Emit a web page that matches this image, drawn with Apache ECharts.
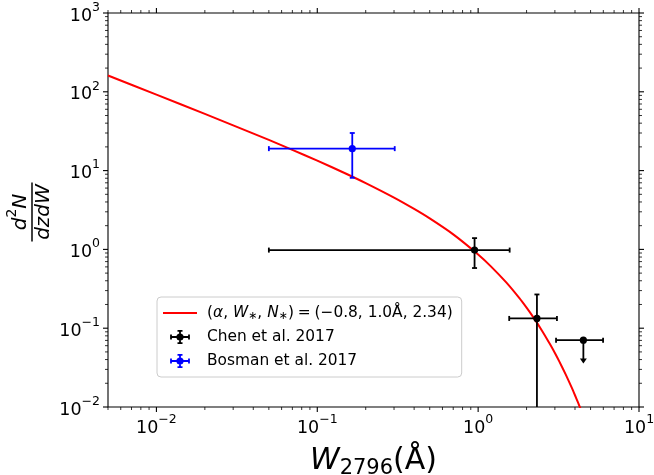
<!DOCTYPE html>
<html>
<head>
<meta charset="utf-8" />
<title>d2N/dzdW versus W2796</title>
<script src="https://cdn.jsdelivr.net/npm/echarts@6/dist/echarts.min.js"></script>
<style>
  html, body { margin: 0; padding: 0; background: #fff; }
  #grafico { width: 654px; height: 475px; }
</style>
</head>
<body>
<div id="grafico"></div>
<script>
// curva ajustada
const curvaW = [0.005, 0.01, 0.02, 0.03, 0.05, 0.07, 0.1, 0.15, 0.2, 0.3, 0.4, 0.5, 0.7, 1.0, 1.2, 1.5, 1.8, 2.0, 2.2, 2.5, 2.8, 3.0, 3.2, 3.5, 3.8, 4.0, 4.2, 4.4, 4.6];
const curvaN = [161, 92.2, 52.4, 37.5, 24.5, 18.3, 13.4, 9.19, 6.94, 4.54, 3.26, 2.47, 1.55, 0.861, 0.609, 0.378, 0.242, 0.182, 0.138, 0.0923, 0.0624, 0.0484, 0.0376, 0.0259, 0.0180, 0.0141, 0.0111, 0.0088, 0.0069];

// Chen et al. 2017 (o ultimo e limite superior)
const chenW = [0.95, 2.32, 4.51];
const chenN = [0.98, 0.133, 0.0705];
const chenWmin = [0.05, 1.56, 3.05];
const chenWmax = [1.57, 3.09, 5.98];
const chenNmin = [0.58, 0.001, 0.0367];
const chenNmax = [1.39, 0.268, 0.0705];
const chenLimite = [0, 0, 1];

// Bosman et al. 2017
const bosW = [0.165];
const bosN = [19];
const bosWmin = [0.050];
const bosWmax = [0.303];
const bosNmin = [8.1];
const bosNmax = [30];

const xMin = 0.005, xMax = 10;
const yMin = 0.01, yMax = 1000;

const fonte = "DejaVu Sans";

// marcas dos eixos: maiores em 10^k, menores em m*10^k
const ticksX = [];
for (let e = -3; e <= 1; e++) {
    for (let m = 1; m <= 9; m++) {
        const v = m * Math.pow(10, e);
        if (v >= xMin * 0.999 && v <= xMax * 1.001) ticksX.push([v, 1, m === 1 ? 1 : 0]);
    }
}
const ticksY = [];
for (let e = -2; e <= 3; e++) {
    for (let m = 1; m <= 9; m++) {
        const v = m * Math.pow(10, e);
        if (v >= yMin * 0.999 && v <= yMax * 1.001) ticksY.push([1, v, m === 1 ? 1 : 0]);
    }
}

function montaErros(w, n, wmin, wmax, nmin, nmax, lim) {
    return w.map((v, i) => [v, n[i], wmin[i], wmax[i], nmin[i], nmax[i], lim ? lim[i] : 0]);
}

function potencia(v) {
    const e = Math.round(Math.log10(v));
    if (Math.abs(Math.log10(v) - e) > 1e-6) return "";
    const txt = e < 0 ? "\u2212" + (-e) : "" + e;
    return "{b|10}{s|" + txt + "}";
}

const richRotulo = {
    b: { fontFamily: fonte, fontSize: 17.5, color: "#000", lineHeight: 24, verticalAlign: "bottom" },
    s: { fontFamily: fonte, fontSize: 12.5, color: "#000", lineHeight: 24, verticalAlign: "top" },
};

function desenhaErro(cor) {
    return function (params, api) {
        const x = api.value(0), y = api.value(1);
        const p = api.coord([x, y]);
        const xl = api.coord([api.value(2), y]);
        const xr = api.coord([api.value(3), y]);
        const yb = api.coord([x, api.value(4)]);
        const yt = api.coord([x, api.value(5)]);
        const lim = api.value(6);
        const st = { stroke: cor, lineWidth: 1.8 };
        const c = 2.5;
        const filhos = [
            { type: "line", shape: { x1: xl[0], y1: p[1], x2: xr[0], y2: p[1] }, style: st },
            { type: "line", shape: { x1: xl[0], y1: p[1] - c, x2: xl[0], y2: p[1] + c }, style: st },
            { type: "line", shape: { x1: xr[0], y1: p[1] - c, x2: xr[0], y2: p[1] + c }, style: st },
        ];
        if (lim) {
            filhos.push({ type: "line", shape: { x1: p[0], y1: p[1], x2: p[0], y2: yb[1] - 3 }, style: st });
            filhos.push({ type: "polygon", shape: { points: [[p[0] - 3.5, yb[1] - 4], [p[0] + 3.5, yb[1] - 4], [p[0], yb[1] + 1]] }, style: { fill: cor } });
        } else {
            filhos.push({ type: "line", shape: { x1: p[0], y1: yb[1], x2: p[0], y2: yt[1] }, style: st });
            filhos.push({ type: "line", shape: { x1: p[0] - c, y1: yt[1], x2: p[0] + c, y2: yt[1] }, style: st });
            filhos.push({ type: "line", shape: { x1: p[0] - c, y1: yb[1], x2: p[0] + c, y2: yb[1] }, style: st });
        }
        filhos.push({ type: "circle", shape: { cx: p[0], cy: p[1], r: 3.6 }, style: { fill: cor } });
        return { type: "group", children: filhos };
    };
}

function desenhaTicksX(params, api) {
    const v = api.value(0), maior = api.value(2);
    const len = maior ? 5 : 3, lw = maior ? 1.1 : 0.8;
    const b = api.coord([v, yMin]), t = api.coord([v, yMax]);
    const st = { stroke: "#000", lineWidth: lw };
    return { type: "group", children: [
        { type: "line", shape: { x1: b[0], y1: b[1], x2: b[0], y2: b[1] + len }, style: st },
        { type: "line", shape: { x1: t[0], y1: t[1], x2: t[0], y2: t[1] - len }, style: st },
    ] };
}

function desenhaTicksY(params, api) {
    const v = api.value(1), maior = api.value(2);
    const len = maior ? 5 : 3, lw = maior ? 1.1 : 0.8;
    const l = api.coord([xMin, v]), r = api.coord([xMax, v]);
    const st = { stroke: "#000", lineWidth: lw };
    return { type: "group", children: [
        { type: "line", shape: { x1: l[0], y1: l[1], x2: l[0] - len, y2: l[1] }, style: st },
        { type: "line", shape: { x1: r[0], y1: r[1], x2: r[0] + len, y2: r[1] }, style: st },
    ] };
}

// icones da legenda (caixa 34x14)
const cantos = "M0,0 L0.01,0 L0,0.01 Z M34,14 L33.99,14 L34,13.99 Z ";
const iconeLinha = "path://" + cantos + "M0,6 H34 V8 H0 Z";
const iconeErro = "path://" + cantos +
    "M8,6.1 H26 V7.9 H8 Z M7.1,4.5 H8.9 V9.5 H7.1 Z M25.1,4.5 H26.9 V9.5 H25.1 Z " +
    "M16.1,0 H17.9 V14 H16.1 Z M14.5,0 H19.5 V1.8 H14.5 Z M14.5,12.2 H19.5 V14 H14.5 Z " +
    "M13.4,7 A3.6,3.6 0 1,1 20.6,7 A3.6,3.6 0 1,1 13.4,7 Z";

const chart = echarts.init(document.getElementById("grafico"));

chart.setOption({
    animation: false,
    backgroundColor: "#fff",
    grid: {
        left: 108, right: 15, top: 13, bottom: 68,
        outerBoundsMode: "none", containLabel: false,
        show: true, borderColor: "#000", borderWidth: 1.1,
    },
    xAxis: {
        type: "log", logBase: 10, min: xMin, max: xMax,
        axisLine: { show: false }, axisTick: { show: false }, splitLine: { show: false },
        axisLabel: { margin: 6, formatter: potencia, rich: richRotulo },
        name: "{w|W}{sub|2796}{n|(Å)}",
        nameLocation: "middle", nameGap: 36,
        nameTextStyle: {
            rich: {
                w: { fontFamily: fonte, fontStyle: "italic", fontSize: 30, color: "#000", lineHeight: 36, verticalAlign: "middle" },
                sub: { fontFamily: fonte, fontSize: 21, color: "#000", lineHeight: 24, verticalAlign: "bottom" },
                n: { fontFamily: fonte, fontSize: 30, color: "#000", lineHeight: 36, verticalAlign: "middle" },
            },
        },
    },
    yAxis: {
        type: "log", logBase: 10, min: yMin, max: yMax,
        axisLine: { show: false }, axisTick: { show: false }, splitLine: { show: false },
        axisLabel: { margin: 8, formatter: potencia, rich: richRotulo },
    },
    legend: {
        left: 157, top: 297, orient: "vertical",
        selectedMode: false,
        padding: [7, 9, 7, 6],
        itemWidth: 34, itemHeight: 14, itemGap: 6,
        backgroundColor: "rgba(255,255,255,0.8)",
        borderColor: "#cccccc", borderWidth: 1, borderRadius: 4,
        textStyle: {
            fontFamily: fonte, fontSize: 15.4, color: "#000", lineHeight: 18, padding: [0, 0, 0, 5],
            rich: {
                n: { fontFamily: fonte, fontSize: 15.4, color: "#000" },
                i: { fontFamily: fonte, fontSize: 15.4, fontStyle: "italic", color: "#000" },
                s: { fontFamily: fonte, fontSize: 11, color: "#000", verticalAlign: "bottom", lineHeight: 12 },
            },
        },
        formatter: function (name) {
            if (name === "ajuste") {
                return "{n|(}{i|α}{n|, }{i|W}{s|∗}{n|, }{i|N}{s|∗}{n|)\u2005=\u2005(−0.8, 1.0Å, 2.34)}";
            }
            return name;
        },
        data: [
            { name: "ajuste", icon: iconeLinha },
            { name: "Chen et al. 2017", icon: iconeErro },
            { name: "Bosman et al. 2017", icon: iconeErro },
        ],
    },
    graphic: [
        {
            type: "group", x: 32, y: 212, rotation: Math.PI / 2,
            children: [
                { type: "line", shape: { x1: -29.5, y1: 0, x2: 29.5, y2: 0 }, style: { stroke: "#000", lineWidth: 1.5 } },
                {
                    type: "text", x: 0, y: -14,
                    style: {
                        text: "{i|d}{s|2}{i|N}", align: "center", verticalAlign: "middle",
                        rich: {
                            i: { fontFamily: fonte, fontStyle: "italic", fontSize: 20, fill: "#000", lineHeight: 26, verticalAlign: "bottom" },
                            s: { fontFamily: fonte, fontSize: 14, fill: "#000", lineHeight: 26, verticalAlign: "top" },
                        },
                    },
                },
                {
                    type: "text", x: 0, y: 12,
                    style: { text: "dzdW", align: "center", verticalAlign: "middle", font: "italic 20px 'DejaVu Sans'", fill: "#000" },
                },
            ],
        },
    ],
    series: [
        {
            name: "ajuste", type: "line",
            data: curvaW.map((w, i) => [w, curvaN[i]]),
            symbol: "none", smooth: 0.2, clip: true,
            lineStyle: { color: "#ff0000", width: 2 },
            itemStyle: { color: "#ff0000" },
            z: 3,
        },
        {
            name: "Chen et al. 2017", type: "custom",
            data: montaErros(chenW, chenN, chenWmin, chenWmax, chenNmin, chenNmax, chenLimite),
            renderItem: desenhaErro("#000000"),
            itemStyle: { color: "#000000" },
            clip: true, z: 4,
        },
        {
            name: "Bosman et al. 2017", type: "custom",
            data: montaErros(bosW, bosN, bosWmin, bosWmax, bosNmin, bosNmax, null),
            renderItem: desenhaErro("#0000ff"),
            itemStyle: { color: "#0000ff" },
            clip: true, z: 4,
        },
        { type: "custom", data: ticksX, renderItem: desenhaTicksX, silent: true, clip: false },
        { type: "custom", data: ticksY, renderItem: desenhaTicksY, silent: true, clip: false },
    ],
});
</script>
</body>
</html>
